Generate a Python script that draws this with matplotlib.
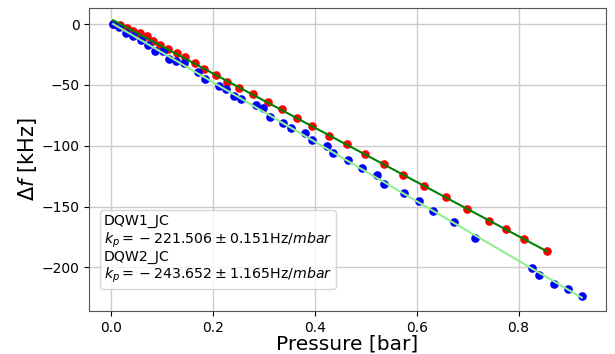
import numpy as np
import matplotlib
matplotlib.use('Agg')
from matplotlib import pyplot as plt
from matplotlib.lines import Line2D

# DQW1_JC (red points)
p1 = [0.0045, 0.018, 0.032, 0.044, 0.057, 0.071, 0.083, 0.097, 0.112, 0.130, 0.146,
      0.165, 0.183, 0.206, 0.228, 0.252, 0.279, 0.308, 0.336, 0.365, 0.395, 0.428,
      0.463, 0.499, 0.536, 0.573, 0.614, 0.657, 0.699, 0.742, 0.775, 0.810, 0.856]
f1 = [0.0, -0.8, -3.3, -5.8, -7.4, -9.9, -14.0, -17.3, -20.6, -23.8, -27.1,
      -32.0, -37.0, -41.9, -47.7, -52.6, -57.6, -64.1, -69.9, -77.3, -83.9, -92.1,
      -98.7, -106.9, -115.1, -124.2, -133.2, -142.3, -152.1, -162.0, -168.6, -176.8, -186.7]

# DQW2_JC (blue points)
p2 = [0.0045, 0.016, 0.030, 0.044, 0.059, 0.073, 0.087, 0.102, 0.114, 0.128, 0.144,
      0.171, 0.185, 0.212, 0.226, 0.242, 0.255, 0.285, 0.299, 0.313, 0.338, 0.354,
      0.381, 0.395, 0.424, 0.436, 0.465, 0.493, 0.522, 0.536, 0.575, 0.605, 0.632,
      0.673, 0.714, 0.826, 0.840, 0.869, 0.897, 0.924]
f2 = [0.0, -2.5, -7.4, -9.9, -13.2, -17.3, -22.2, -22.0, -28.8, -30.4, -32.1,
      -39.5, -45.2, -51.0, -53.5, -59.2, -61.7, -66.6, -69.1, -76.5, -81.4, -85.5,
      -89.6, -95.4, -100.3, -106.1, -111.8, -118.4, -124.2, -131.6, -139.0, -145.6, -153.8,
      -162.8, -176.0, -200.7, -206.4, -213.8, -217.9, -223.7]

label1 = 'DQW1_JC\n$k_p = {} - 221.506 \\pm 0.151$Hz/$mbar$'
label2 = 'DQW2_JC\n$k_p = {} - 243.652 \\pm 1.165$Hz/$mbar$'

fig = plt.figure(figsize=(6.15, 3.54), dpi=100)
ax = fig.add_axes([0.145, 0.121, 0.84, 0.856])

p1 = np.array(p1)
p2 = np.array(p2)
c1 = np.polyfit(p1, f1, 1)
c2 = np.polyfit(p2, f2, 1)

ax.plot(p1, f1, 'o', color='red', markersize=6.2, markeredgewidth=0)
ax.plot(p2, f2, 'o', color='blue', markersize=6.2, markeredgewidth=0)
ax.plot(p1, np.polyval(c1, p1), color='green', linewidth=1.5)
ax.plot(p2, np.polyval(c2, p2), color='lightgreen', linewidth=1.5)

ax.set_xlim(-0.0425, 0.971)
ax.set_ylim(-236, 13.2)
ax.grid(True, color='#cccccc', linewidth=1)
ax.set_axisbelow(True)
for s in ax.spines.values():
    s.set_color('#555555')
ax.tick_params(labelsize=10)

ax.set_xlabel('Pressure [bar]', fontsize=14.5, labelpad=0)
ax.set_ylabel('$\\Delta f$ [kHz]', fontsize=15, labelpad=2)

blank = Line2D([], [], linestyle='none')
ax.legend([blank, blank], [label1, label2], loc='lower left', fontsize=10.2,
          handlelength=0, handletextpad=0, borderpad=0.25, labelspacing=0.0,
          bbox_to_anchor=(0.008, 0.05))

plt.savefig('out.png', dpi=100)
